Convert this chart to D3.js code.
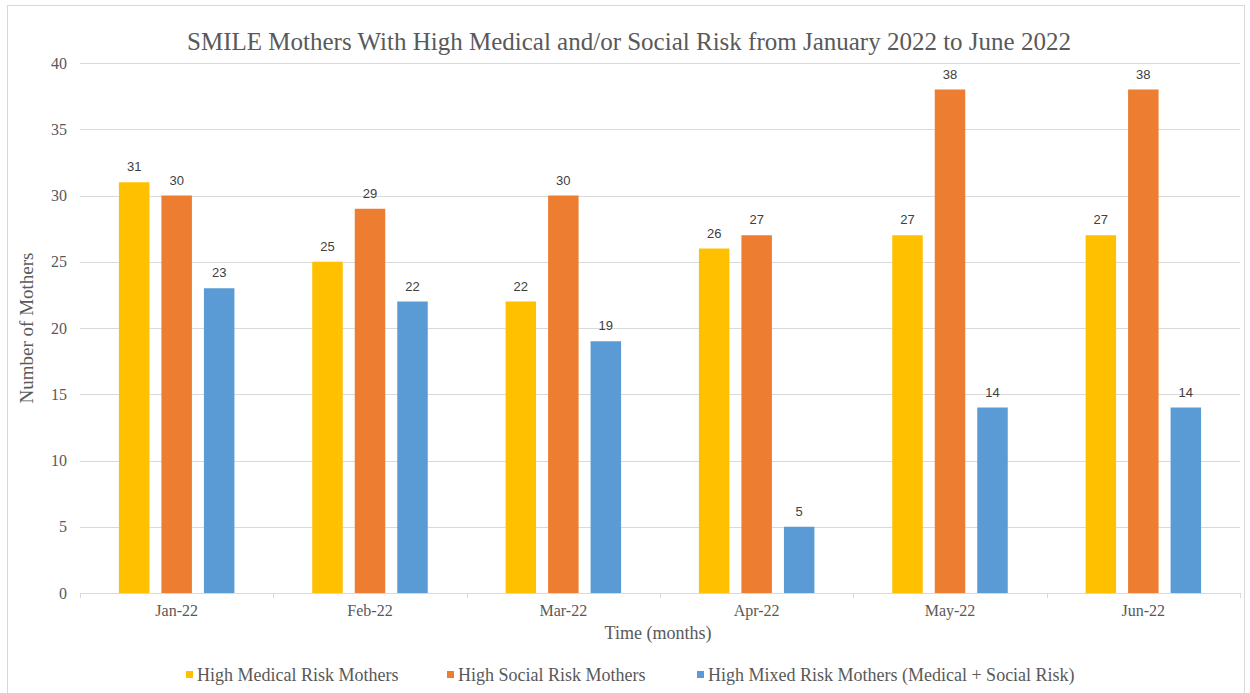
<!DOCTYPE html>
<html>
<head>
<meta charset="utf-8">
<script src="https://cdn.jsdelivr.net/npm/d3@7"></script>
<style>
  html, body { margin: 0; padding: 0; background: #fff; }
  svg { display: block; }
</style>
</head>
<body>
<svg id="chart" width="1250" height="693"></svg>
<script>
// Monthly counts of SMILE mothers by risk category
const months = ["Jan-22", "Feb-22", "Mar-22", "Apr-22", "May-22", "Jun-22"];
const seriesNames = [
  "High Medical Risk Mothers",
  "High Social Risk Mothers",
  "High Mixed Risk Mothers (Medical + Social Risk)"
];
const medicalRisk = [31, 25, 22, 26, 27, 27];
const socialRisk = [30, 29, 30, 27, 38, 38];
const mixedRisk = [23, 22, 19, 5, 14, 14];
const yTicks = [0, 5, 10, 15, 20, 25, 30, 35, 40];
const colors = ["#FFC000", "#ED7D31", "#5B9BD5"];

const seriesValues = [medicalRisk, socialRisk, mixedRisk];

const svg = d3.select("#chart");
const plotLeft = 80, plotRight = 1240, plotTop = 63, plotBottom = 593;

const serif = "Liberation Serif, Times New Roman, serif";
const sans = "Liberation Sans, Arial, sans-serif";
const textGray = "#595959";

// Outer chart frame
svg.append("rect")
  .attr("x", 7.5).attr("y", 5.5)
  .attr("width", 1237).attr("height", 700)
  .attr("fill", "#fff").attr("stroke", "#d9d9d9").attr("stroke-width", 1);

const x = d3.scaleBand().domain(months).range([plotLeft, plotRight]);
const y = d3.scaleLinear().domain([0, 40]).range([plotBottom, plotTop]);

// Group layout: three bars with gaps inside each month band
const barW = 30.5, barGap = 12;
const groupW = 3 * barW + 2 * barGap;
const inner = d3.scaleBand().domain(d3.range(3)).range([0, groupW])
  .paddingInner(barGap / (barW + barGap)).paddingOuter(0);

// Gridlines
svg.append("g")
  .selectAll("line")
  .data(yTicks.filter(d => d > 0))
  .join("line")
  .attr("x1", plotLeft).attr("x2", plotRight)
  .attr("y1", d => Math.round(y(d)) + 0.5).attr("y2", d => Math.round(y(d)) + 0.5)
  .attr("stroke", "#d9d9d9").attr("stroke-width", 1);

// Y axis labels
const yAxis = d3.axisLeft(y).tickValues(yTicks).tickSize(0).tickPadding(13);
const gy = svg.append("g").attr("transform", `translate(${plotLeft},0)`).call(yAxis);
gy.select(".domain").remove();
gy.selectAll("text").attr("font-family", serif).attr("font-size", 16).attr("fill", textGray);

// Bars with value labels
const groups = svg.append("g").selectAll("g")
  .data(months)
  .join("g")
  .attr("transform", d => `translate(${x(d) + (x.bandwidth() - groupW) / 2},0)`);

groups.each(function(m, mi) {
  const g = d3.select(this);
  seriesValues.forEach((vals, si) => {
    const v = vals[mi];
    g.append("rect")
      .attr("x", inner(si)).attr("width", inner.bandwidth())
      .attr("y", y(v)).attr("height", y(0) - y(v))
      .attr("fill", colors[si]);
    g.append("text")
      .attr("x", inner(si) + inner.bandwidth() / 2)
      .attr("y", y(v) - 11)
      .attr("text-anchor", "middle")
      .attr("font-family", sans).attr("font-size", 13)
      .attr("fill", "#404040")
      .text(v);
  });
});

// X axis
const xAxis = d3.axisBottom(x).tickSize(0).tickPadding(12);
const gx = svg.append("g").attr("transform", `translate(0,${plotBottom})`).call(xAxis);
gx.select(".domain").attr("stroke", "#d9d9d9");
gx.selectAll("text").attr("font-family", serif).attr("font-size", 16).attr("fill", textGray);
// Category boundary tick marks
gx.append("g").selectAll("line")
  .data(d3.range(months.length + 1))
  .join("line")
  .attr("x1", i => Math.round(plotLeft + i * x.bandwidth()) + 0.5)
  .attr("x2", i => Math.round(plotLeft + i * x.bandwidth()) + 0.5)
  .attr("y1", 0).attr("y2", 5)
  .attr("stroke", "#d9d9d9");

// Title
svg.append("text")
  .attr("x", 629).attr("y", 50)
  .attr("text-anchor", "middle")
  .attr("font-family", serif).attr("font-size", 25)
  .attr("fill", textGray)
  .text("SMILE Mothers With High Medical and/or Social Risk from January 2022 to June 2022");

// Axis titles
svg.append("text")
  .attr("transform", `translate(33,${(plotTop + plotBottom) / 2}) rotate(-90)`)
  .attr("text-anchor", "middle")
  .attr("font-family", serif).attr("font-size", 19)
  .attr("fill", textGray)
  .text("Number of Mothers");

svg.append("text")
  .attr("x", 658).attr("y", 639)
  .attr("text-anchor", "middle")
  .attr("font-family", serif).attr("font-size", 18)
  .attr("fill", textGray)
  .text("Time (months)");

// Legend
const legendX = [186, 447, 697];
const legend = svg.append("g").selectAll("g")
  .data(seriesNames)
  .join("g")
  .attr("transform", (d, i) => `translate(${legendX[i]},681)`);
legend.append("rect")
  .attr("x", 0).attr("y", -10).attr("width", 7).attr("height", 7)
  .attr("fill", (d, i) => colors[i]);
legend.append("text")
  .attr("x", 11).attr("y", 0)
  .attr("font-family", serif).attr("font-size", 18)
  .attr("fill", textGray)
  .text(d => d);
</script>
</body>
</html>
